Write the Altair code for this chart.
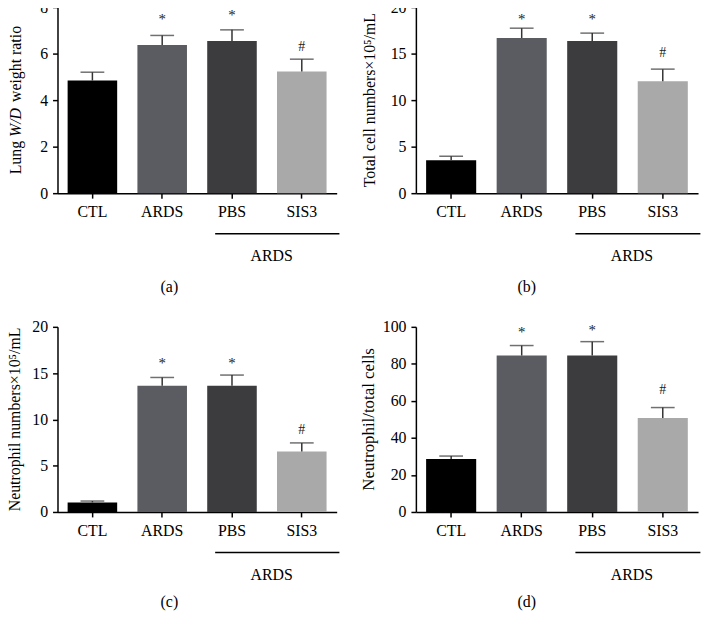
import altair as alt
import pandas as pd

groups = ["CTL", "ARDS", "PBS", "SIS3"]
bar_colors = ["#000000", "#5b5c61", "#3c3c3e", "#a9a9a9"]
sig_marks = ["", "*", "*", "#"]

# (a) Lung W/D weight ratio
wd_mean = [4.84, 6.37, 6.54, 5.23]
wd_sem = [0.36, 0.41, 0.48, 0.53]
wd_sig_y = [0, 7.67, 7.82, 6.33]

# (b) Total cell numbers x10^5/mL
tc_mean = [3.54, 16.67, 16.35, 12.02]
tc_sem = [0.43, 1.06, 0.85, 1.31]
tc_sig_y = [0, 19.18, 19.18, 15.21]

# (c) Neutrophil numbers x10^5/mL
ne_mean = [1.03, 13.64, 13.64, 6.54]
ne_sem = [0.15, 0.89, 1.15, 0.92]
ne_sig_y = [0, 16.5, 16.5, 9.0]

# (d) Neutrophil/total cells
nt_mean = [28.6, 84.5, 84.5, 50.7]
nt_sem = [1.6, 5.4, 7.5, 5.7]
nt_sig_y = [0, 99.2, 100.6, 66.4]

FONT = "Liberation Serif"


def panel(mean, sem, sig_y, ymax, ticks, width, height, title_parts,
          title_dx, title_size, label, label_x, label_dy):
    df = pd.DataFrame({
        "group": groups,
        "mean": mean,
        "upper": [m + s for m, s in zip(mean, sem)],
        "sig": sig_marks,
        "sig_y": sig_y,
    })
    base = alt.Chart(df)
    xenc = alt.X(
        "group:N", sort=groups,
        scale=alt.Scale(domain=groups, paddingInner=0.29, paddingOuter=0.145),
        axis=alt.Axis(title=None, labelAngle=0, labelPadding=6, labelOverlap=False,
                      labelFont=FONT, labelFontSize=16, labelColor="black"),
    )
    yscale = alt.Scale(domain=[0, ymax], nice=False, zero=True)
    yenc = alt.Y(
        "mean:Q", scale=yscale,
        axis=alt.Axis(title=None, values=[float(t) for t in ticks], tickCount=len(ticks),
                      labelPadding=5, grid=False,
                      labelOverlap=False, labelFlush=False, labelBound=False,
                      labelFont=FONT, labelFontSize=16, labelColor="black"),
    )
    bars = base.mark_bar().encode(
        x=xenc, y=yenc,
        color=alt.Color("group:N", scale=alt.Scale(domain=groups, range=bar_colors), legend=None),
    )
    err = base.mark_rule(color="#333333", strokeWidth=1.5).encode(
        x=alt.X("group:N", sort=groups), y="mean:Q", y2="upper:Q")
    cap = base.mark_tick(color="#333333", thickness=1.5, size=24).encode(
        x=alt.X("group:N", sort=groups), y="upper:Q")
    stars = base.transform_filter(alt.datum.sig == "*").mark_text(
        font=FONT, fontSize=15, baseline="alphabetic", dy=9, color="#222222"
    ).encode(x=alt.X("group:N", sort=groups), y="sig_y:Q", text="sig:N")
    hashes = base.transform_filter(alt.datum.sig == "#").mark_text(
        font=FONT, fontSize=14, baseline="alphabetic", dy=5, color="#222222"
    ).encode(x=alt.X("group:N", sort=groups), y="sig_y:Q", text="sig:N")

    grp = pd.DataFrame({"group": ["PBS"], "group_end": ["SIS3"], "txt": ["ARDS"]})
    gline = alt.Chart(grp).mark_rule(color="black", strokeWidth=1.5, xOffset=-17, x2Offset=38).encode(
        x=alt.X("group:N", sort=groups), x2="group_end:N", y=alt.value(height + 41))
    gtext = alt.Chart(grp).mark_text(font=FONT, fontSize=16, baseline="middle", dx=40, color="black").encode(
        x=alt.X("group:N", sort=groups), y=alt.value(height + 64), text="txt:N")

    lab = alt.Chart(pd.DataFrame({"t": [label]})).mark_text(
        font=FONT, fontSize=16, baseline="middle", color="black"
    ).encode(x=alt.value(label_x), y=alt.value(height + label_dy), text="t:N")

    layers = [bars, err, cap, stars, hashes, gline, gtext, lab]
    for txt, pos, ital in title_parts:
        layers.append(
            alt.Chart(pd.DataFrame({"t": [txt]})).mark_text(
                font=FONT, fontSize=title_size, angle=270,
                align="left" if len(title_parts) > 1 else "center",
                baseline="middle", color="black", fontStyle="italic" if ital else "normal",
            ).encode(x=alt.value(title_dx), y=alt.value(pos), text="t:N")
        )
    return alt.layer(*layers).properties(width=width, height=height)


ts = 16
# approximate widths of the (a) title pieces in Liberation Serif
w_lung = (0.611 + 0.5 + 0.5 + 0.5 + 0.25) * ts
w_wd = (0.833 + 0.278 + 0.722) * ts + 2
w_rest = (0.25 + 0.722 + 0.444 + 0.278 + 0.5 + 0.5 + 0.278 + 0.25 + 0.333 + 0.444 + 0.278 + 0.278 + 0.5) * ts
tot = w_lung + w_wd + w_rest
y0 = 94 + tot / 2
a_parts = [("Lung", y0, False), ("W/D", y0 - w_lung, True), ("weight ratio", y0 - w_lung - w_wd - 0.25 * ts, False)]

pa = panel(wd_mean, wd_sem, wd_sig_y, 8, [0, 2, 4, 6, 8], 282, 188, a_parts, -42, ts, "(a)", 113, 95)
pb = panel(tc_mean, tc_sem, tc_sig_y, 20, [0, 5, 10, 15, 20], 285, 188,
           [("Total cell numbers×10⁵/mL", 94, False)], -46, 16, "(b)", 112, 95)
pc = panel(ne_mean, ne_sem, ne_sig_y, 20, [0, 5, 10, 15, 20], 282, 187,
           [("Neutrophil numbers×10⁵/mL", 93.5, False)], -42.5, 16, "(c)", 113, 91)
pd_ = panel(nt_mean, nt_sem, nt_sig_y, 100, [0, 20, 40, 60, 80, 100], 285, 187,
            [("Neutrophil/total cells", 93.5, False)], -47, 17, "(d)", 112, 91)

chart = alt.concat(pa, pb, pc, pd_, columns=2, spacing={"row": 135, "column": 80}, bounds="flush").properties(
    padding={"left": -1, "top": -12, "right": 0, "bottom": 0},
    background="white",
).configure_view(stroke=None).configure_axis(
    labelFont=FONT, labelFontSize=16, labelColor="black", labelOverlap=False,
    domainColor="black", domainWidth=1.5, tickColor="black", tickWidth=1.5, tickSize=5,
    grid=False,
)

chart.save("out.html", embed_options={"renderer": "svg", "actions": False})
